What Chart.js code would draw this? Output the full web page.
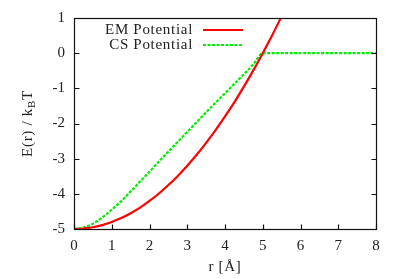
<!DOCTYPE html>
<html>
<head>
<meta charset="utf-8">
<script src="https://cdn.jsdelivr.net/npm/chart.js@4/dist/chart.umd.min.js"></script>
<style>
html,body{margin:0;padding:0;background:#fff;}
#wrap{width:399px;height:279px;position:relative;}
</style>
</head>
<body>
<div id="wrap"><canvas id="c" width="399" height="279"></canvas></div>
<script>
// ---- data ----
const emLabel = "EM Potential";
const csLabel = "CS Potential";
const emR = [0,0.25,0.5,0.75,1,1.25,1.5,1.75,2,2.25,2.5,2.75,3,3.25,3.5,3.75,4,4.25,4.5,4.75,5,5.25,5.5];
const emE = [-5,-4.99,-4.95,-4.89,-4.8,-4.69,-4.55,-4.39,-4.2,-3.99,-3.75,-3.49,-3.2,-2.89,-2.55,-2.19,-1.8,-1.39,-0.95,-0.49,0,0.51,1.05];
const csR = [0,0.25,0.5,0.75,1,1.25,1.5,1.75,2,2.25,2.5,2.75,3,3.25,3.5,3.75,4,4.25,4.5,4.75,5,6,7,8];
const csE = [-5,-4.96,-4.85,-4.67,-4.45,-4.21,-3.93,-3.65,-3.37,-3.08,-2.8,-2.52,-2.24,-1.96,-1.68,-1.41,-1.14,-0.87,-0.6,-0.32,0,0,0,0];
const xTickLabels = ["0","1","2","3","4","5","6","7","8"];
const yTickLabels = ["-5","-4","-3","-2","-1","0","1"];
const xTitle = "r [\u00C5]";

const FONT = "'Liberation Serif', 'DejaVu Serif', serif";
const TXT = "#222";

const toPts = (xs, ys) => xs.map((x, i) => ({x: x, y: ys[i]}));

const framePlugin = {
  id: 'frame',
  afterDraw(chart) {
    const ctx = chart.ctx;
    const a = chart.chartArea;
    const xs = chart.scales.x, ys = chart.scales.y;
    const L = Math.round(a.left) + 0.5, R = Math.round(a.right) + 0.5;
    const T = Math.round(a.top) + 0.5, B = Math.round(a.bottom) + 0.5;
    ctx.save();
    ctx.strokeStyle = "#111";
    ctx.lineWidth = 1.2;
    ctx.strokeRect(L, T, R - L, B - T);
    // inward ticks
    ctx.beginPath();
    xs.ticks.forEach(t => {
      const px = Math.round(xs.getPixelForValue(t.value)) + 0.5;
      ctx.moveTo(px, B); ctx.lineTo(px, B - 5);
    });
    ys.ticks.forEach(t => {
      const py = Math.round(ys.getPixelForValue(t.value)) + 0.5;
      ctx.moveTo(L, py); ctx.lineTo(L + 5, py);
      ctx.moveTo(R, py); ctx.lineTo(R - 5, py);
    });
    ctx.stroke();

    // legend
    ctx.letterSpacing = "0.7px";
    ctx.font = "15px " + FONT;
    ctx.fillStyle = TXT;
    ctx.textAlign = "right";
    ctx.textBaseline = "middle";
    const lx = 193, ly1 = 30, ly2 = 45;
    ctx.fillText(emLabel, lx, ly1);
    ctx.fillText(csLabel, lx, ly2);
    ctx.lineWidth = 2.2;
    ctx.strokeStyle = "#ff0000";
    ctx.beginPath(); ctx.moveTo(203, ly1); ctx.lineTo(243, ly1); ctx.stroke();
    ctx.strokeStyle = "#00ee00";
    ctx.setLineDash([3, 1.5]);
    ctx.beginPath(); ctx.moveTo(203, ly2); ctx.lineTo(243, ly2); ctx.stroke();
    ctx.setLineDash([]);

    // x title
    ctx.textAlign = "center";
    ctx.fillText(xTitle, (a.left + a.right) / 2, 267);

    // y title with subscript
    ctx.translate(28, (a.top + a.bottom) / 2);
    ctx.rotate(-Math.PI / 2);
    const p1 = "E(r) / k", sub = "B", p2 = "T";
    ctx.font = "15px " + FONT;
    const w1 = ctx.measureText(p1).width, w3 = ctx.measureText(p2).width;
    ctx.font = "11px " + FONT;
    const w2 = ctx.measureText(sub).width;
    const total = w1 + w2 + w3;
    let cx = -total / 2;
    ctx.textAlign = "left";
    ctx.font = "15px " + FONT;
    ctx.fillText(p1, cx, 0); cx += w1;
    ctx.font = "11px " + FONT;
    ctx.fillText(sub, cx, 4); cx += w2;
    ctx.font = "15px " + FONT;
    ctx.fillText(p2, cx, 0);
    ctx.restore();
  }
};

new Chart(document.getElementById('c'), {
  type: 'line',
  data: {
    datasets: [
      {label: emLabel, data: toPts(emR, emE), borderColor: '#ff0000', borderWidth: 2.2,
       pointRadius: 0, fill: false, cubicInterpolationMode: 'monotone'},
      {label: csLabel, data: toPts(csR, csE), borderColor: '#00ee00', borderWidth: 2.2,
       borderDash: [3, 1.5], pointRadius: 0, fill: false, cubicInterpolationMode: 'monotone'}
    ]
  },
  options: {
    responsive: false,
    animation: false,
    layout: {padding: {top: 17, right: 23, left: 0, bottom: 0}},
    plugins: {legend: {display: false}, tooltip: {enabled: false}},
    scales: {
      x: {
        type: 'linear', min: 0, max: 8,
        grid: {display: false, drawTicks: false}, border: {display: false},
        ticks: {stepSize: 1, padding: 8, color: TXT, font: {family: FONT, size: 15},
                maxRotation: 0, callback: (v) => xTickLabels[Math.round(v)]},
        afterFit: (s) => { s.height = 50; }
      },
      y: {
        type: 'linear', min: -5, max: 1,
        grid: {display: false, drawTicks: false}, border: {display: false},
        ticks: {stepSize: 1, padding: 9, color: TXT, font: {family: FONT, size: 15},
                callback: (v) => yTickLabels[Math.round(v) + 5]},
        afterFit: (s) => { s.width = 74; }
      }
    }
  },
  plugins: [framePlugin]
});
</script>
</body>
</html>
